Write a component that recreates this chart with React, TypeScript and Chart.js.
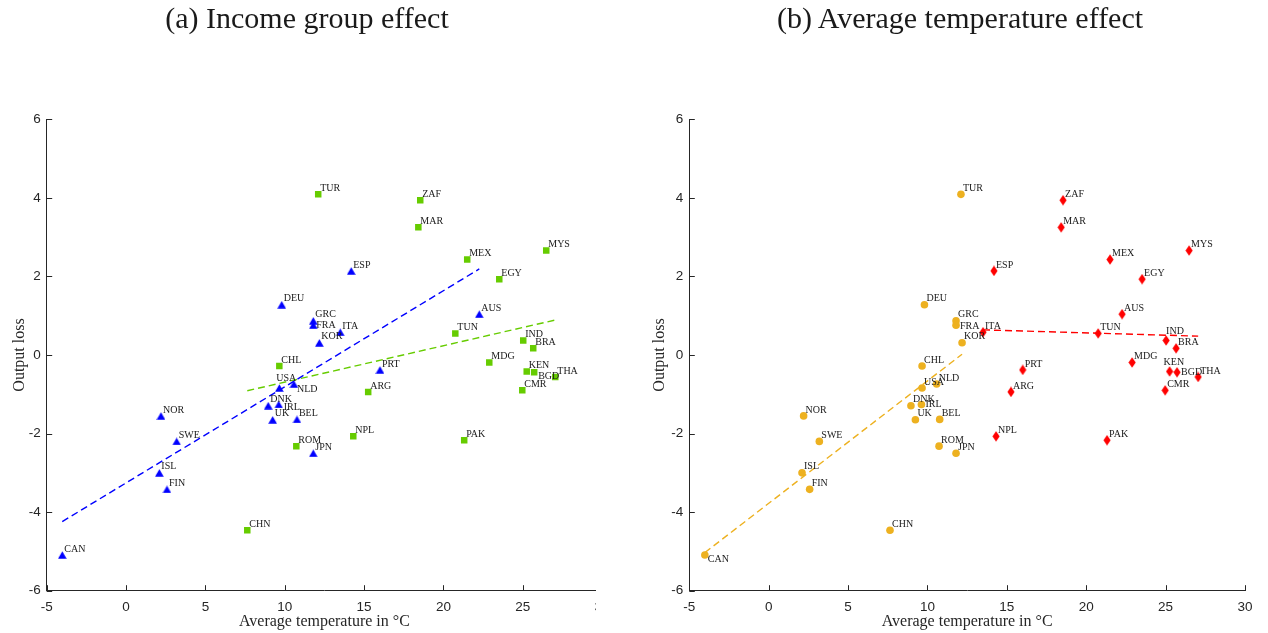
import React, { useEffect, useRef } from "react";
import { Chart, registerables } from "chart.js";

Chart.register(...registerables);

// ---------------- data ----------------
const countries = ["CAN", "ISL", "NOR", "FIN", "SWE", "CHN", "DNK", "UK", "IRL", "USA", "CHL", "DEU", "NLD", "ROM", "BEL", "GRC", "FRA", "JPN", "TUR", "KOR", "ITA", "ESP", "NPL", "ARG", "PRT", "MAR", "ZAF", "TUN", "PAK", "MEX", "AUS", "MDG", "EGY", "CMR", "IND", "KEN", "BRA", "BGD", "MYS", "THA"];
const temperature = [-4.02, 2.1, 2.2, 2.58, 3.19, 7.64, 8.96, 9.24, 9.62, 9.66, 9.66, 9.81, 10.58, 10.73, 10.77, 11.8, 11.8, 11.8, 12.11, 12.18, 13.5, 14.19, 14.32, 15.26, 16.0, 18.42, 18.54, 20.75, 21.31, 21.5, 22.26, 22.89, 23.52, 24.97, 25.03, 25.25, 25.66, 25.72, 26.48, 27.05];
const outputLoss = [-5.09, -3.0, -1.55, -3.42, -2.2, -4.46, -1.29, -1.65, -1.26, -0.84, -0.28, 1.28, -0.74, -2.32, -1.64, 0.87, 0.76, -2.5, 4.09, 0.31, 0.58, 2.14, -2.07, -0.94, -0.38, 3.25, 3.94, 0.55, -2.17, 2.43, 1.04, -0.19, 1.93, -0.9, 0.37, -0.42, 0.17, -0.44, 2.66, -0.56];
const highIncome = ["CAN", "ISL", "NOR", "FIN", "SWE", "DNK", "UK", "IRL", "USA", "DEU", "NLD", "BEL", "GRC", "FRA", "JPN", "KOR", "ITA", "ESP", "PRT", "AUS"];
const temperatureThreshold = 13;

// fitted lines (end points)
const fitHighIncomeX = [-4.02, 22.26];
const fitHighIncomeY = [-4.24, 2.19];
const fitLowIncomeX = [7.64, 27.05];
const fitLowIncomeY = [-0.91, 0.89];
const fitColdX = [-4.02, 12.18];
const fitColdY = [-5.03, 0.02];
const fitWarmX = [13.5, 27.05];
const fitWarmY = [0.64, 0.48];

const xTickValues = [-5, 0, 5, 10, 15, 20, 25, 30];
const yTickValues = [-6, -4, -2, 0, 2, 4, 6];

const titleA = "(a) Income group effect";
const titleB = "(b) Average temperature effect";
const xTitle = "Average temperature in \u00B0C";
const yTitle = "Output loss";

// ---------------- styles ----------------
const fontSans = "Arial, 'Liberation Sans', Helvetica, sans-serif";
const fontSerif = "'Liberation Serif', 'Times New Roman', serif";
const axisColor = "#262626";
const blue = "#0000ff";
const green = "#66cc00";
const orange = "#edb120";
const red = "#ff0000";

const defaultLabelOffset = [2, -6];
const labelOffsetsA: Record<string, number[]> = {
  NLD: [3, 5], IRL: [5, 3], BGD: [4, 4], USA: [-3, -10], FRA: [3, 0],
};
const labelOffsetsB: Record<string, number[]> = {
  CAN: [3, 4], IRL: [4, 0], FRA: [4, 1], BGD: [4, 0], KEN: [-6, -9], IND: [0, -9],
};

function pts(filter: (i: number) => boolean) {
  const out: { x: number; y: number }[] = [];
  countries.forEach((_, i) => {
    if (filter(i)) out.push({ x: temperature[i], y: outputLoss[i] });
  });
  return out;
}
function line(xs: number[], ys: number[]) {
  return xs.map((x, i) => ({ x, y: ys[i] }));
}

function makeTriangle(color: string) {
  const c = document.createElement("canvas");
  c.width = 9; c.height = 8;
  const g = c.getContext("2d")!;
  g.fillStyle = color;
  g.beginPath(); g.moveTo(4.5, 0.2); g.lineTo(8.8, 7.8); g.lineTo(0.2, 7.8); g.closePath(); g.fill();
  return c;
}
function makeDiamond(color: string) {
  const c = document.createElement("canvas");
  c.width = 8; c.height = 11;
  const g = c.getContext("2d")!;
  g.fillStyle = color;
  g.beginPath(); g.moveTo(4, 0.3); g.lineTo(7.6, 5.5); g.lineTo(4, 10.7); g.lineTo(0.4, 5.5); g.closePath(); g.fill();
  return c;
}

function decorPlugin(offsets: Record<string, number[]>) {
  return {
    id: "decor",
    afterDatasetsDraw(chart: any) {
      const { ctx, chartArea } = chart;
      const x = chart.scales.x;
      const y = chart.scales.y;
      ctx.save();
      ctx.strokeStyle = axisColor;
      ctx.lineWidth = 1;
      ctx.beginPath();
      xTickValues.forEach((v) => {
        const px = Math.round(x.getPixelForValue(v)) + 0.5;
        ctx.moveTo(px, chartArea.bottom);
        ctx.lineTo(px, chartArea.bottom - 5.5);
      });
      yTickValues.forEach((v) => {
        const py = Math.round(y.getPixelForValue(v)) + 0.5;
        ctx.moveTo(chartArea.left, py);
        ctx.lineTo(chartArea.left + 5.5, py);
      });
      ctx.stroke();
      ctx.font = `10px ${fontSerif}`;
      ctx.fillStyle = "#1a1a1a";
      ctx.textAlign = "left";
      ctx.textBaseline = "middle";
      countries.forEach((c, i) => {
        const [dx, dy] = offsets[c] || defaultLabelOffset;
        ctx.fillText(c, x.getPixelForValue(temperature[i]) + dx, y.getPixelForValue(outputLoss[i]) + dy);
      });
      ctx.restore();
    },
  };
}

function makeOptions(yWidth: number, padRight: number) {
  return {
    responsive: false,
    animation: false as const,
    layout: { padding: { top: 119.3, left: 0, right: padRight, bottom: 0 } },
    plugins: { legend: { display: false }, tooltip: { enabled: false } },
    scales: {
      x: {
        type: "linear" as const,
        min: -5,
        max: 30,
        afterBuildTicks: (s: any) => { s.ticks = xTickValues.map((v) => ({ value: v })); },
        afterFit: (s: any) => { s.height = 42.3; },
        grid: { display: false, drawTicks: false },
        border: { display: true, color: axisColor, width: 1 },
        ticks: {
          color: axisColor,
          font: { family: fontSans, size: 13.5 },
          padding: 8,
          maxRotation: 0,
          autoSkip: false,
          callback: (v: any) => String(v),
        },
        title: {
          display: true,
          text: xTitle,
          color: axisColor,
          font: { family: fontSerif, size: 16 },
          padding: { top: 0, bottom: 1.5 },
        },
      },
      y: {
        type: "linear" as const,
        min: -6,
        max: 6,
        afterBuildTicks: (s: any) => { s.ticks = yTickValues.map((v) => ({ value: v })); },
        afterFit: (s: any) => { s.width = yWidth; },
        grid: { display: false, drawTicks: false },
        border: { display: true, color: axisColor, width: 1 },
        ticks: {
          color: axisColor,
          font: { family: fontSans, size: 13.5 },
          padding: 6,
          autoSkip: false,
          callback: (v: any) => String(v),
        },
        title: {
          display: true,
          text: yTitle,
          color: axisColor,
          font: { family: fontSerif, size: 16 },
          padding: { top: 10, bottom: 0 },
        },
      },
    },
  };
}

export default function App() {
  const refA = useRef<HTMLCanvasElement>(null);
  const refB = useRef<HTMLCanvasElement>(null);

  useEffect(() => {
    const tri = makeTriangle(blue);
    const dia = makeDiamond(red);
    const isHigh = (i: number) => highIncome.includes(countries[i]);
    const isCold = (i: number) => temperature[i] < temperatureThreshold;

    const chartA = new Chart(refA.current!, {
      type: "scatter",
      data: {
        datasets: [
          { data: line(fitHighIncomeX, fitHighIncomeY), showLine: true, borderColor: blue, borderWidth: 1.4, borderDash: [7, 4], pointRadius: 0 },
          { data: line(fitLowIncomeX, fitLowIncomeY), showLine: true, borderColor: green, borderWidth: 1.4, borderDash: [7, 4], pointRadius: 0 },
          { data: pts(isHigh), pointStyle: tri as any, backgroundColor: blue, borderWidth: 0 },
          { data: pts((i) => !isHigh(i)), pointStyle: "rect", pointRadius: 4.6, backgroundColor: green, borderColor: green, borderWidth: 0 },
        ],
      },
      options: makeOptions(46.7, 17.9) as any,
      plugins: [decorPlugin(labelOffsetsA)],
    });

    const chartB = new Chart(refB.current!, {
      type: "scatter",
      data: {
        datasets: [
          { data: line(fitColdX, fitColdY), showLine: true, borderColor: orange, borderWidth: 1.4, borderDash: [7, 4], pointRadius: 0 },
          { data: line(fitWarmX, fitWarmY), showLine: true, borderColor: red, borderWidth: 1.4, borderDash: [7, 4], pointRadius: 0 },
          { data: pts(isCold), pointStyle: "circle", pointRadius: 3.8, backgroundColor: orange, borderColor: orange, borderWidth: 0 },
          { data: pts((i) => !isCold(i)), pointStyle: dia as any, backgroundColor: red, borderWidth: 0 },
        ],
      },
      options: makeOptions(49.3, 23) as any,
      plugins: [decorPlugin(labelOffsetsB)],
    });

    return () => {
      chartA.destroy();
      chartB.destroy();
    };
  }, []);

  const titleStyle: React.CSSProperties = {
    position: "absolute",
    top: 3,
    fontFamily: fontSerif,
    fontSize: 30,
    lineHeight: "30px",
    color: "#1a1a1a",
    whiteSpace: "nowrap",
    transform: "translateX(-50%)",
  };

  return (
    <div style={{ position: "fixed", left: 0, top: 0, width: 1268, height: 633, background: "#fff", overflow: "hidden" }}>
      <div style={{ position: "absolute", left: 0, top: 0, width: 596, height: 633, overflow: "hidden" }}>
        <canvas ref={refA} width={620} height={633} style={{ display: "block" }} />
      </div>
      <div style={{ position: "absolute", left: 640, top: 0, width: 628, height: 633 }}>
        <canvas ref={refB} width={628} height={633} style={{ display: "block" }} />
      </div>
      <div style={{ ...titleStyle, left: 307 }}>{titleA}</div>
      <div style={{ ...titleStyle, left: 960 }}>{titleB}</div>
    </div>
  );
}
